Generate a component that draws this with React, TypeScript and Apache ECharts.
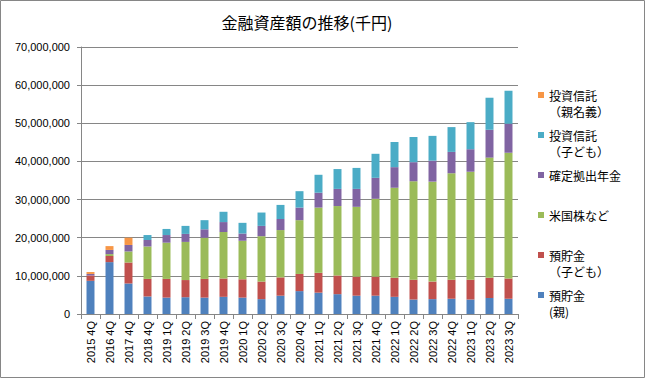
import React, { useEffect, useRef } from "react";
import * as echarts from "echarts";

const categories = [
  "2015 4Q", "2016 4Q", "2017 4Q", "2018 4Q", "2019 1Q", "2019 2Q", "2019 3Q", "2019 4Q",
  "2020 1Q", "2020 2Q", "2020 3Q", "2020 4Q", "2021 1Q", "2021 2Q", "2021 3Q", "2021 4Q",
  "2022 1Q", "2022 2Q", "2022 3Q", "2022 4Q", "2023 1Q", "2023 2Q", "2023 3Q",
];

const depositParent = [
  8700000, 13600000, 8000000, 4600000, 4300000, 4400000, 4300000, 4500000,
  4300000, 3900000, 4800000, 6000000, 5600000, 5200000, 4800000, 4800000,
  4500000, 3800000, 3900000, 4000000, 3800000, 4200000, 4000000,
];
const depositChild = [
  1400000, 1600000, 5500000, 4600000, 4900000, 4500000, 4900000, 4800000,
  4800000, 4600000, 4800000, 4500000, 5200000, 4900000, 5000000, 5000000,
  5000000, 5200000, 4600000, 5000000, 5200000, 5300000, 5300000,
];
const usStocks = [
  0, 500000, 2900000, 8500000, 9500000, 10000000, 10800000, 12200000,
  10100000, 11900000, 12400000, 14100000, 17100000, 18200000, 18300000, 20400000,
  23600000, 25800000, 26200000, 27900000, 28300000, 31500000, 33000000,
];
const dcPension = [
  400000, 1100000, 1700000, 1700000, 2000000, 2100000, 2200000, 2600000,
  1900000, 2700000, 2900000, 3300000, 3900000, 4500000, 4700000, 5500000,
  5400000, 5000000, 5500000, 5600000, 5900000, 7300000, 7600000,
];
const fundChild = [
  0, 0, 0, 1300000, 1600000, 2100000, 2400000, 2700000,
  2800000, 3500000, 3700000, 4300000, 4700000, 5200000, 5500000, 6300000,
  6600000, 6600000, 6500000, 6500000, 7100000, 8400000, 8600000,
];
const fundParent = [
  500000, 1000000, 1900000, 0, 0, 0, 0, 0,
  0, 0, 0, 0, 0, 0, 0, 0,
  0, 0, 0, 0, 0, 0, 0,
];

const seriesNames = [
  "預貯金\n(親)",
  "預貯金\n（子ども）",
  "米国株など",
  "確定拠出年金",
  "投資信託\n（子ども）",
  "投資信託\n（親名義）",
];
const seriesColors = ["#4F81BD", "#C0504D", "#9BBB59", "#8064A2", "#4BACC6", "#F79646"];
const seriesData = [depositParent, depositChild, usStocks, dcPension, fundChild, fundParent];

const yTicks = { min: 0, max: 70000000, interval: 10000000 };

const FONT = "'Noto Sans CJK JP', 'Noto Sans', sans-serif";
const LINE = 16;
const LEGEND_FIRST = 95;
const LEGEND_STEP = 40;
// legend entries, top to bottom
const legendOrder = [5, 4, 3, 2, 1, 0];

export default function App() {
  const ref = useRef<HTMLDivElement>(null);
  useEffect(() => {
    if (!ref.current) return;
    const chart = echarts.init(ref.current, null, { renderer: "svg" });
    const legends = legendOrder.map((si, k) => {
      const name = seriesNames[si];
      const twoLines = name.indexOf("\n") >= 0;
      const y = LEGEND_FIRST + LEGEND_STEP * k;
      return {
        data: [name],
        orient: "vertical",
        left: 538,
        top: twoLines ? y - LINE * 1.5 : y - LINE / 2,
        padding: 0,
        itemWidth: 6,
        itemHeight: 6,
        itemGap: 0,
        icon: "rect",
        selectedMode: false,
        formatter: (n: string) => (n.indexOf("\n") >= 0 ? "\n" + n : n),
        textStyle: {
          fontFamily: FONT,
          fontSize: 12,
          color: "#000",
          lineHeight: LINE,
        },
      };
    });
    chart.setOption({
      animation: false,
      backgroundColor: "#fff",
      title: {
        text: "金融資産額の推移(千円)",
        left: 302,
        top: 9,
        textAlign: "center",
        textStyle: { fontFamily: FONT, fontSize: 16, fontWeight: "normal", color: "#000" },
      },
      graphic: [
        {
          type: "rect",
          shape: { x: 0.5, y: 0.5, width: 644, height: 377 },
          style: { fill: "none", stroke: "#868686", lineWidth: 1 },
          silent: true,
        },
      ],
      legend: legends,
      grid: { left: 81, right: 127, top: 47, bottom: 64, containLabel: false },
      xAxis: {
        type: "category",
        data: categories,
        axisLine: { lineStyle: { color: "#868686" } },
        axisTick: { show: true, length: 5, lineStyle: { color: "#868686" } },
        axisLabel: {
          rotate: 90,
          interval: 0,
          margin: 7,
          fontFamily: "'Liberation Sans', Arial, sans-serif",
          fontSize: 11,
          color: "#000",
        },
      },
      yAxis: {
        type: "value",
        min: yTicks.min,
        max: yTicks.max,
        interval: yTicks.interval,
        axisLine: { show: true, lineStyle: { color: "#868686" } },
        axisTick: { show: true, length: 4, lineStyle: { color: "#868686" } },
        splitLine: { lineStyle: { color: "#868686", width: 1 } },
        axisLabel: {
          margin: 11,
          fontFamily: "'Liberation Sans', Arial, sans-serif",
          fontSize: 11,
          color: "#000",
          formatter: (v: number) => v.toLocaleString("en-US"),
        },
      },
      series: seriesNames.map((name, i) => ({
        name,
        type: "bar",
        stack: "total",
        barWidth: "42%",
        itemStyle: { color: seriesColors[i] },
        data: seriesData[i],
      })),
    });
    return () => chart.dispose();
  }, []);
  return (
    <div style={{ position: "absolute", left: 0, top: 0, width: 645, height: 378 }}>
      <div ref={ref} style={{ width: 645, height: 378 }} />
    </div>
  );
}
